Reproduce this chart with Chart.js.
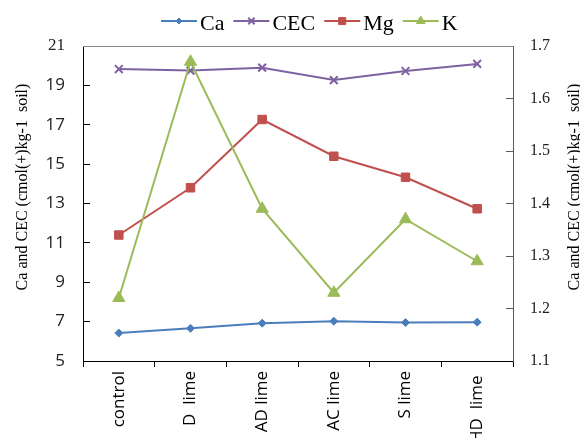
<!DOCTYPE html>
<html>
<head>
<meta charset="utf-8">
<script src="https://cdn.jsdelivr.net/npm/chart.js@4/dist/chart.umd.min.js"></script>
<style>
  html, body { margin: 0; padding: 0; background: #fff; }
  canvas { display: block; }
</style>
</head>
<body>
<canvas id="c" width="580" height="438" style="width:580px;height:438px"></canvas>
<script>
// Treatments
const categories = ['control', 'D  lime', 'AD lime', 'AC lime', 'S lime', 'HD  lime '];

// Left axis series (cmol(+)/kg soil)
const caValues  = [6.42, 6.66, 6.92, 7.02, 6.95, 6.97];
const cecValues = [19.83, 19.75, 19.90, 19.27, 19.73, 20.09];

// Right axis series
const mgValues = [1.34, 1.43, 1.56, 1.49, 1.45, 1.39];
const kValues  = [1.22, 1.67, 1.39, 1.23, 1.37, 1.29];

// Axis ranges and tick steps
const leftTicks  = { min: 5, max: 21, step: 2 };
const rightTicks = { min: 1.1, max: 1.7, step: 0.1 };

const axisTitle = 'Ca and CEC (cmol(+)kg-1  soil)';

const SERIF = '"Liberation Serif", "Times New Roman", serif';
const SANS  = '"Open Sans", "Liberation Sans", sans-serif';

// Plot frame, axis titles and the line+marker legend
const decorations = {
  id: 'decorations',
  afterDraw(chart) {
    const { ctx, chartArea: a } = chart;
    ctx.save();

    // top edge of the plot box
    ctx.strokeStyle = '#8c8c8c';
    ctx.lineWidth = 1;
    ctx.beginPath();
    ctx.moveTo(a.left, a.top + 0.5);
    ctx.lineTo(a.right, a.top + 0.5);
    ctx.stroke();

    // rotated axis titles on both sides
    ctx.fillStyle = '#000';
    ctx.font = '16px ' + SERIF;
    ctx.textAlign = 'center';
    ctx.textBaseline = 'middle';
    [[23, 187], [575, 187]].forEach(([x, y]) => {
      ctx.save();
      ctx.translate(x, y);
      ctx.rotate(-Math.PI / 2);
      ctx.fillText(axisTitle, 0, 0);
      ctx.restore();
    });

    // legend: short line with a small series marker, then the name
    const lineLen = 36, textGap = 3, itemGap = 9, lineY = 21, baseY = 30;
    const legendRadius = { rectRot: 3, crossRot: 4.5, rect: 5, triangle: 5 };
    let x = 161;
    ctx.font = '22px ' + SERIF;
    ctx.textAlign = 'left';
    ctx.textBaseline = 'alphabetic';
    chart.data.datasets.forEach(ds => {
      ctx.strokeStyle = ds.borderColor;
      ctx.lineWidth = 2;
      ctx.beginPath();
      ctx.moveTo(x, lineY);
      ctx.lineTo(x + lineLen, lineY);
      ctx.stroke();
      ctx.fillStyle = ds.pointBackgroundColor;
      ctx.strokeStyle = ds.pointBorderColor;
      ctx.lineWidth = ds.pointBorderWidth;
      Chart.helpers.drawPoint(ctx, {
        pointStyle: ds.pointStyle,
        radius: legendRadius[ds.pointStyle],
        borderWidth: ds.pointBorderWidth,
        rotation: 0
      }, x + lineLen / 2, lineY);
      ctx.fillStyle = '#000';
      const tx = x + lineLen + textGap;
      ctx.fillText(ds.label, tx, baseY);
      x = tx + ctx.measureText(ds.label).width + itemGap;
    });

    ctx.restore();
  }
};

function series(label, data, color, style, radius, axis, order, bw) {
  return {
    label, data, yAxisID: axis, order,
    borderColor: color, borderWidth: 2,
    pointStyle: style, pointRadius: radius, pointHoverRadius: radius,
    pointBackgroundColor: color, pointBorderColor: color, pointBorderWidth: bw,
    tension: 0, fill: false
  };
}

new Chart(document.getElementById('c'), {
  type: 'line',
  data: {
    labels: categories,
    datasets: [
      series('Ca',  caValues,  '#4a7ebb', 'rectRot',  4,   'y',  4, 1),
      series('CEC', cecValues, '#7e62a1', 'crossRot', 5.5, 'y',  3, 2),
      series('Mg',  mgValues,  '#c0504d', 'rect',     6,   'y1', 2, 1),
      series('K',   kValues,   '#9bbb59', 'triangle', 7,   'y1', 1, 1)
    ]
  },
  options: {
    responsive: false,
    devicePixelRatio: 1,
    animation: false,
    layout: { padding: { top: 46, left: 0, right: 0, bottom: 0 } },
    plugins: {
      legend: { display: false },
      tooltip: { enabled: false },
      title: { display: false }
    },
    scales: {
      x: {
        type: 'category',
        offset: true,
        border: { display: true, color: '#000', width: 1 },
        grid: { display: true, drawOnChartArea: false, offset: true, tickLength: 6, tickColor: '#000' },
        ticks: {
          autoSkip: false, minRotation: 90, maxRotation: 90, padding: 4,
          color: '#000', font: { family: SANS, size: 17 }
        },
        afterFit(scale) { scale.height = 77; }
      },
      y: {
        position: 'left',
        min: leftTicks.min, max: leftTicks.max,
        border: { display: true, color: '#000', width: 1 },
        grid: { display: true, drawOnChartArea: false, tickLength: -7, tickColor: '#000' },
        ticks: {
          stepSize: leftTicks.step, padding: 25, color: '#222',
          font: (c) => (c.tick && c.tick.value === leftTicks.max)
            ? { family: SERIF, size: 17 }
            : { family: SANS, size: 17 }
        },
        afterFit(scale) { scale.width = 83; }
      },
      y1: {
        position: 'right',
        min: rightTicks.min, max: rightTicks.max,
        border: { display: true, color: '#595959', width: 1 },
        grid: { display: true, drawOnChartArea: false, tickLength: -7, tickColor: '#595959' },
        ticks: {
          stepSize: rightTicks.step, padding: 24, color: '#222',
          font: { family: SERIF, size: 16 },
          callback: (v) => Number(v).toFixed(1)
        },
        afterFit(scale) { scale.width = 67; }
      }
    }
  },
  plugins: [decorations]
});
</script>
</body>
</html>
